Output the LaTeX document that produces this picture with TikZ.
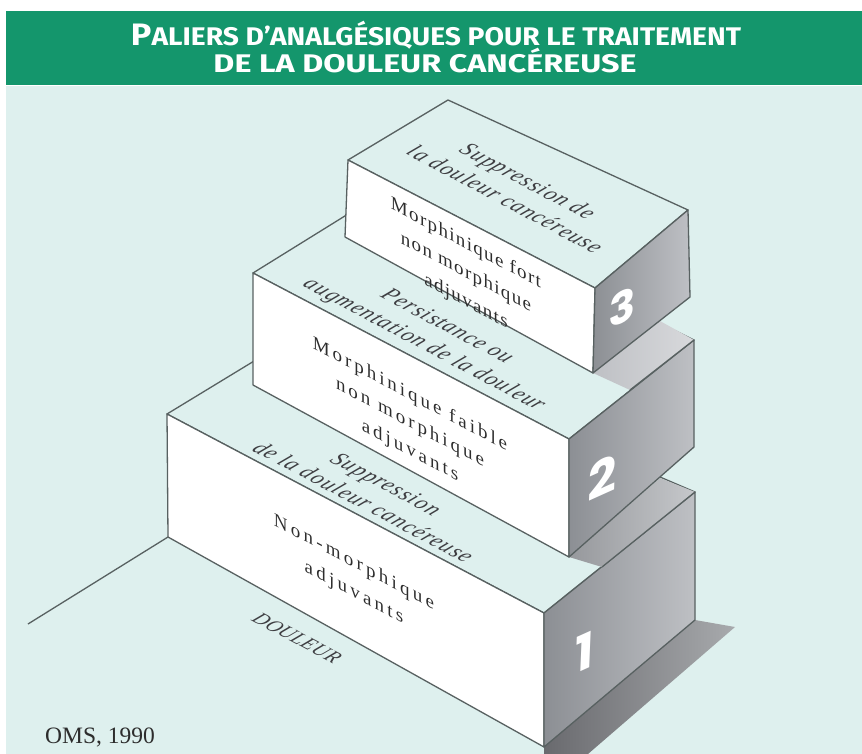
\documentclass[tikz,border=0pt]{standalone}
\usepackage{fontspec}
\usepackage{graphicx}
\setmainfont{Liberation Serif}
\newfontfamily\titlefont{Fira Sans}
\newfontfamily\numfont{Poppins}
\newfontfamily\frontA{Liberation Serif}[LetterSpace=7]
\newfontfamily\frontB{Liberation Serif}[LetterSpace=15.5]
\newfontfamily\frontC{Liberation Serif}[LetterSpace=17]
\newfontfamily\topit{Liberation Serif}[LetterSpace=6]
\newfontfamily\floorit{Liberation Serif}[LetterSpace=3]
\definecolor{hdr}{RGB}{20,150,108}
\definecolor{bgm}{RGB}{222,240,238}
\definecolor{edgec}{RGB}{88,97,97}
\definecolor{sideD}{RGB}{140,143,148}
\definecolor{sideL}{RGB}{190,192,196}
\definecolor{shD}{RGB}{105,106,110}
\definecolor{shL}{RGB}{168,170,173}
\definecolor{sh2D}{RGB}{150,152,156}
\definecolor{sh2L}{RGB}{198,200,203}
\definecolor{sh3D}{RGB}{190,192,196}
\definecolor{sh3L}{RGB}{216,217,220}
\definecolor{txt}{RGB}{45,45,45}
\definecolor{txti}{RGB}{62,62,66}
\newcommand\placetext[6]{\begin{scope}[shift={(#2,#3)},cm={#4,(0,0)}]\node[transform shape,#5] (#1) at (0,0) {#6};\end{scope}}
\begin{document}
\begin{tikzpicture}[x=1pt,y=-1pt,
  edge/.style={draw=edgec,line width=1.3pt,line join=round},
  fronttxt/.style={text=txt,align=center,inner sep=0pt},
  toptxt/.style={text=txti,align=center,inner sep=0pt,font=\topit\itshape\fontsize{19}{24}\selectfont},
  numtxt/.style={text=white,inner sep=0pt,font=\numfont\bfseries\fontsize{50}{50}\selectfont},
  titletxt/.style={text=white,inner sep=0pt,anchor=base}]
\useasboundingbox (0,0) rectangle (862,754);
\fill[white] (0,0) rectangle (862,754);
\fill[hdr] (6,11) rectangle (862,85);
\fill[bgm] (6,86) rectangle (862,754);
% title
\node[titletxt] (t1) at (436,46) {\resizebox{610pt}{\height}{\titlefont\bfseries\fontsize{31}{31}\selectfont P\fontsize{25.5}{25.5}\selectfont ALIERS D’ANALGÉSIQUES POUR LE TRAITEMENT}};
\node[titletxt] (t2) at (425,73) {\resizebox{423pt}{\height}{\titlefont\bfseries\fontsize{25.5}{25.5}\selectfont DE LA DOULEUR CANCÉREUSE}};
% floor line
\coordinate (fa) at (168,537);
\coordinate (fb) at (28,624);
\draw[edge] (fa) -- (fb);
% floor shadow
\shade[left color=shD,right color=shL] (544,747) -- (695,620) -- (735,627) -- (588,754) -- (544,754) -- cycle;
% block 1
\filldraw[fill=bgm,edge] (167,414) -- (544,613) -- (695,492) -- (310,327) -- cycle;
\filldraw[fill=white,edge] (167,414) -- (544,613) -- (544,747) -- (168,537) -- cycle;
\shadedraw[left color=sideD,right color=sideL,edge] (544,613) -- (695,492) -- (695,620) -- (544,747) -- cycle;
\shade[left color=sh2D,right color=sh2L] (569,557) -- (602,567) -- (695,492) -- (660,478) -- cycle;
\draw[edge] (602,567) -- (695,492);
% block 2
\filldraw[fill=bgm,edge] (253,273) -- (569,439) -- (694,340) -- (390,188) -- cycle;
\filldraw[fill=white,edge] (253,273) -- (569,439) -- (569,557) -- (253,385) -- cycle;
\shadedraw[left color=sideD,right color=sideL,edge] (569,439) -- (694,340) -- (694,447) -- (569,557) -- cycle;
\shade[left color=sh3D,right color=sh3L] (593,373) -- (630,390) -- (694,340) -- (660,321) -- cycle;
\draw[edge] (630,390) -- (694,340);
% block 3
\filldraw[fill=bgm,edge] (348,160) -- (595,288) -- (688,210) -- (448,100) -- cycle;
\filldraw[fill=white,edge] (348,160) -- (595,288) -- (593,373) -- (345,237) -- cycle;
\shadedraw[left color=sideD,right color=sideL,edge] (595,288) -- (688,210) -- (690,297) -- (593,373) -- cycle;
% numbers
\placetext{n1}{585}{652}{1,0.45,0.04,1}{numtxt}{1}
\placetext{n2}{603}{477}{1,0.45,0.04,1}{numtxt}{2}
\placetext{n3}{622}{307}{1,0.45,0.04,1}{numtxt,font=\numfont\bfseries\fontsize{44}{44}\selectfont}{3}
% front texts
\placetext{f3}{466}{273}{1,-0.53,0,1}{fronttxt,font=\frontA\fontsize{19}{29}\selectfont}{Morphinique fort\\non morphique\\adjuvants}
\placetext{f2}{410}{423}{1,-0.53,0,1}{fronttxt,font=\frontB\fontsize{19}{28}\selectfont}{Morphinique faible\\non morphique\\adjuvants}
\placetext{f1}{354}{578}{1,-0.53,0,1}{fronttxt,font=\frontC\fontsize{19}{30}\selectfont}{Non-morphique\\adjuvants}
% top texts
\placetext{s3}{517}{190}{1,-0.53,0.95,0.75}{toptxt}{Suppression de\\la douleur cancéreuse}
\placetext{s2}{435}{336}{1,-0.53,0.95,0.75}{toptxt}{Persistance ou\\augmentation de la douleur}
\placetext{s1}{375}{493}{1,-0.53,0.95,0.75}{toptxt}{Suppression\\de la douleur cancéreuse}
\placetext{dl}{297}{638}{1,-0.53,0.95,0.75}{toptxt,font=\floorit\itshape\fontsize{17}{20}\selectfont}{DOULEUR}
% source
\node[text=txt,anchor=base west,inner sep=0pt,font=\fontsize{23.5}{23.5}\selectfont] (oms) at (45,743) {OMS, 1990};
\end{tikzpicture}
\end{document}
